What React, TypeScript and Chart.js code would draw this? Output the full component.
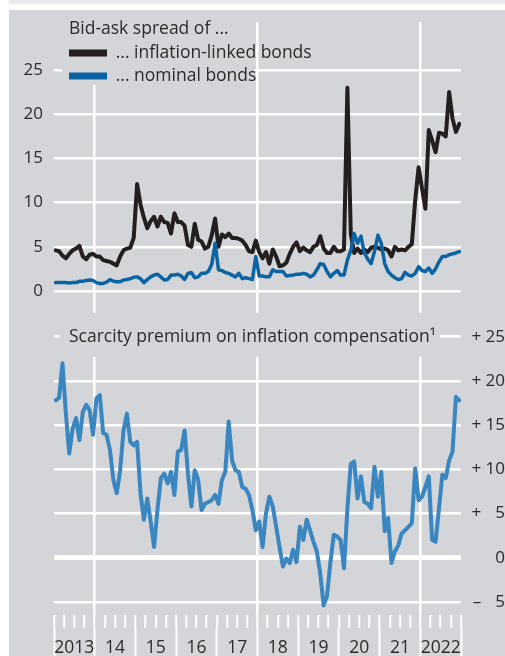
import React, { useEffect, useRef } from 'react';
import { Chart, registerables } from 'chart.js';

Chart.register(...registerables);

// ---------- data ----------
const START_YEAR = 2013;
const END_YEAR = 2023;
const yearLabels = ['2013', '14', '15', '16', '17', '18', '19', '20', '21', '2022'];
const verticalGridYears = [2014, 2018, 2022];
const leftTicks = [0, 5, 10, 15, 20, 25];
const rightTicks = [-5, 0, 5, 10, 15, 20, 25];

const legendTitle = 'Bid-ask spread of ...';
const inflationLinkedLabel = '... inflation-linked bonds';
const nominalLabel = '... nominal bonds';
const scarcityTitle = 'Scarcity premium on inflation compensation\u00b9';

// monthly values, Jan 2013 – Dec 2022
const inflationLinked = [
  4.6, 4.5, 4.0, 3.7, 4.2, 4.6, 4.8, 5.1, 3.9, 3.6, 4.1, 4.2,
  3.9, 3.9, 3.5, 3.4, 3.3, 3.1, 2.9, 3.9, 4.6, 4.8, 4.9, 6.0,
  12.1, 9.8, 8.3, 7.1, 7.9, 8.4, 7.3, 8.4, 7.8, 7.7, 6.5, 8.8,
  7.8, 7.8, 7.4, 5.2, 5.0, 7.6, 5.8, 5.6, 4.8, 5.0, 6.3, 8.2,
  5.0, 6.4, 6.1, 6.5, 6.0, 6.0, 5.9, 5.7, 5.2, 4.5, 4.4, 5.7,
  4.4, 3.7, 4.4, 3.1, 4.7, 3.9, 2.8, 2.9, 3.2, 4.2, 5.0, 5.5,
  4.5, 4.9, 4.6, 4.4, 5.0, 5.2, 6.2, 4.8, 4.3, 4.3, 5.0, 4.5,
  4.5, 4.7, 23.0, 6.5, 4.3, 4.8, 4.3, 4.7, 4.4, 4.9, 5.0, 4.9,
  4.7, 4.8, 4.6, 3.9, 5.0, 4.6, 4.7, 4.6, 5.0, 5.3, 10.3, 14.0,
  11.6, 9.3, 18.2, 17.0, 15.7, 17.9, 17.8, 17.5, 22.5, 19.5, 18.0, 18.9,
];

const nominal = [
  0.95, 0.95, 0.95, 0.95, 0.9, 0.95, 0.95, 1.1, 1.1, 1.2, 1.25, 1.2,
  0.95, 0.85, 0.85, 1.0, 1.3, 1.1, 1.05, 1.05, 1.25, 1.3, 1.4, 1.55,
  1.6, 1.4, 0.95, 1.3, 1.6, 1.8, 1.9, 1.6, 1.25, 1.3, 1.8, 1.8,
  1.9, 1.7, 1.3, 2.0, 2.1, 1.5, 1.6, 2.0, 2.0, 2.2, 3.0, 5.4,
  2.4, 2.3, 2.1, 2.0, 1.8, 1.6, 2.0, 1.4, 1.5, 1.4, 1.3, 3.9,
  1.7, 1.7, 1.6, 1.6, 2.4, 2.2, 2.2, 2.2, 1.7, 1.75, 1.8, 1.9,
  1.9, 2.0, 1.9, 1.6, 1.8, 2.4, 3.1, 3.0, 2.2, 1.6, 2.0, 2.3,
  1.8, 1.8, 3.5, 4.6, 6.5, 5.4, 6.2, 4.3, 3.6, 3.1, 4.5, 6.3,
  5.4, 3.1, 2.2, 1.8, 1.5, 1.3, 1.4, 2.1, 1.8, 1.7, 2.0, 2.75,
  2.3, 2.2, 2.6, 2.0, 2.5, 3.3, 3.9, 3.9, 4.1, 4.2, 4.3, 4.45,
];

const scarcity = [
  17.8, 18.1, 22.0, 16.3, 11.8, 14.6, 15.8, 13.3, 16.5, 17.3, 16.7, 13.9,
  18.0, 18.4, 14.1, 13.9, 12.2, 8.8, 7.3, 9.9, 14.4, 16.3, 13.1, 12.7,
  13.1, 7.3, 4.3, 6.7, 4.1, 1.2, 5.4, 9.0, 9.5, 8.4, 9.7, 7.1,
  12.0, 12.2, 14.4, 9.5, 5.8, 9.9, 8.8, 5.4, 6.1, 6.3, 6.5, 7.1,
  6.1, 8.8, 9.7, 15.4, 11.0, 9.9, 9.7, 8.0, 7.8, 7.1, 5.4, 3.1,
  4.1, 1.2, 5.0, 6.9, 5.8, 3.5, 1.2, -1.0, -0.1, -0.6, 0.9, -0.5,
  3.5, 2.0, 4.3, 3.1, 1.8, 0.7, -1.8, -5.4, -4.3, -0.5, 2.6, 2.4,
  2.0, -1.2, 5.5, 10.6, 10.9, 6.7, 9.2, 6.3, 6.1, 5.6, 10.3, 6.9,
  9.7, 3.0, 4.5, -0.6, 0.7, 1.4, 2.75, 3.1, 3.5, 3.9, 10.1, 6.5,
  6.9, 8.0, 9.2, 2.0, 1.8, 5.5, 9.4, 9.0, 11.0, 12.0, 18.2, 17.8,
];

// ---------- style ----------
const FONT = '"Open Sans", "Noto Sans", sans-serif';
const TEXT = '#2b2b2b';
const PANEL = '#d4d5d8';
const STRIP = '#ebebed';
const GRID = '#ffffff';
const NONE = 'rgba(0,0,0,0)';
const BLACK = '#231f20';
const NOMINAL_BLUE = '#0a63a3';
const SCARCITY_BLUE = '#3a86c0';

const LABEL_SIZE = 17.5;
const TICK_SIZE = 17;

const CANVAS_W = 496;
const CANVAS_H = 646;

const monthX = (i: number) => START_YEAR + (i + 0.5) / 12;
const toPoints = (arr: number[]) => arr.map((v, i) => ({ x: monthX(i), y: v }));

const quarterTicks: number[] = [];
for (let q = START_YEAR * 4; q <= END_YEAR * 4; q++) quarterTicks.push(q / 4);
const halfYearTicks: number[] = [];
for (let h = START_YEAR * 2; h <= END_YEAR * 2; h++) halfYearTicks.push(h / 2);

const fmtRight = (v: number) => {
  if (v === 0) return '0';
  const a = Math.abs(v);
  return (v > 0 ? '+ ' : '\u2013 ') + (a < 10 ? '\u2007' : '') + a;
};

function withBackground(box: any, rects: (chart: any) => { x: number; y: number; w: number; h: number }[]) {
  if (!box || box.__bgPatched) return;
  const original = box.draw;
  box.draw = function (...args: any[]) {
    const ctx = this.ctx;
    ctx.save();
    ctx.fillStyle = PANEL;
    rects(this.chart).forEach((r) => ctx.fillRect(r.x, r.y, r.w, r.h));
    ctx.restore();
    return original.apply(this, args);
  };
  box.__bgPatched = true;
}

const overlayPlugin = {
  id: 'overlayPanels',
  afterLayout(chart: any) {
    const ca = chart.chartArea;
    const lg = chart.legend;
    if (lg) {
      lg.left = ca.left + 15;
      lg.top = ca.top - 1.75;
      lg.width = 300;
      lg.right = lg.left + lg.width;
      lg.height = 120;
      lg.bottom = lg.top + lg.height;
      withBackground(lg, (c) => {
        const a = c.chartArea;
        return [{ x: a.left + 8, y: a.top, w: 193, h: 63 }];
      });
    }
    const tb = chart.titleBlock;
    if (tb) {
      const y25 = chart.scales.yR.getPixelForValue(25);
      tb.left = ca.left + 15;
      tb.right = ca.right;
      tb.width = tb.right - tb.left;
      tb.top = y25 - 6;
      tb.bottom = tb.top + 12;
      tb.height = 12;
      withBackground(tb, (c) => {
        const a = c.chartArea;
        const yy = c.scales.yR.getPixelForValue(25);
        return [{ x: a.left + 6, y: yy - 24, w: 380, h: 44 }];
      });
    }
  },
};

export default function App() {
  const ref = useRef<HTMLCanvasElement>(null);

  useEffect(() => {
    if (!ref.current) return;
    const chart = new Chart(ref.current, {
      type: 'line',
      data: {
        datasets: [
          {
            label: inflationLinkedLabel,
            data: toPoints(inflationLinked),
            yAxisID: 'yL',
            xAxisID: 'x',
            borderColor: BLACK,
            backgroundColor: BLACK,
            borderWidth: 4,
            pointRadius: 0,
            borderJoinStyle: 'round',
            borderCapStyle: 'round',
            order: 1,
          },
          {
            label: nominalLabel,
            data: toPoints(nominal),
            yAxisID: 'yL',
            xAxisID: 'x',
            borderColor: NOMINAL_BLUE,
            backgroundColor: NOMINAL_BLUE,
            borderWidth: 3.5,
            pointRadius: 0,
            borderJoinStyle: 'round',
            borderCapStyle: 'round',
            order: 0,
          },
          {
            label: scarcityTitle,
            data: toPoints(scarcity),
            yAxisID: 'yR',
            xAxisID: 'x',
            borderColor: SCARCITY_BLUE,
            backgroundColor: SCARCITY_BLUE,
            borderWidth: 4,
            pointRadius: 0,
            borderJoinStyle: 'round',
            borderCapStyle: 'round',
            order: 2,
          },
        ],
      },
      options: {
        responsive: false,
        animation: false,
        devicePixelRatio: 1,
        events: [],
        layout: { padding: 0 },
        elements: { line: { tension: 0 }, point: { radius: 0 } },
        plugins: {
          tooltip: { enabled: false },
          legend: {
            display: true,
            position: 'chartArea',
            align: 'start',
            title: {
              display: true,
              text: legendTitle,
              position: 'start',
              color: TEXT,
              font: { family: FONT, size: LABEL_SIZE, lineHeight: 1 },
              padding: { top: 0, bottom: 6.5 },
            },
            labels: {
              color: TEXT,
              font: { family: FONT, size: LABEL_SIZE, lineHeight: 23 / LABEL_SIZE },
              boxWidth: 38,
              boxHeight: 7,
              padding: 0,
              generateLabels: (c: any) =>
                c.data.datasets.slice(0, 2).map((ds: any, i: number) => ({
                  text: [ds.label],
                  fillStyle: ds.borderColor,
                  strokeStyle: ds.borderColor,
                  lineWidth: 0,
                  hidden: false,
                  fontColor: TEXT,
                  datasetIndex: i,
                })),
            },
          },
          title: {
            display: true,
            text: scarcityTitle,
            position: 'top',
            align: 'start',
            color: TEXT,
            font: { family: FONT, size: LABEL_SIZE, lineHeight: 12 / LABEL_SIZE, weight: 'normal' },
            padding: 0,
          },
        },
        scales: {
          x: {
            type: 'linear',
            position: 'bottom',
            min: START_YEAR,
            max: END_YEAR,
            weight: 0,
            afterBuildTicks: (s: any) => {
              s.ticks = quarterTicks.map((v) => ({ value: v }));
            },
            afterFit: (s: any) => {
              s.height = 13;
              s.paddingLeft = 0;
              s.paddingRight = 0;
            },
            grid: {
              drawOnChartArea: true,
              drawTicks: true,
              tickLength: 13,
              color: (c: any) => (c.tick && verticalGridYears.includes(c.tick.value) ? GRID : NONE),
              lineWidth: 2.5,
              tickColor: GRID,
              tickWidth: 2,
            },
            border: { display: false },
            ticks: { display: false },
          },
          xYear: {
            type: 'linear',
            position: 'bottom',
            min: START_YEAR,
            max: END_YEAR,
            weight: 1,
            afterBuildTicks: (s: any) => {
              s.ticks = halfYearTicks.map((v) => ({ value: v }));
            },
            afterFit: (s: any) => {
              s.height = 28;
              s.paddingLeft = 0;
              s.paddingRight = 0;
            },
            grid: {
              drawOnChartArea: false,
              drawTicks: true,
              tickLength: 28,
              color: NONE,
              tickColor: (c: any) => (c.tick && Number.isInteger(c.tick.value) ? GRID : NONE),
              tickWidth: 2,
            },
            border: { display: false },
            ticks: {
              autoSkip: false,
              maxRotation: 0,
              minRotation: 0,
              padding: -18.5,
              color: TEXT,
              font: { family: FONT, size: 17.5 },
              callback: (v: any) => {
                const k = Number(v) - (START_YEAR + 0.5);
                return Number.isInteger(k) ? yearLabels[k] : '';
              },
            },
          },
          yL: {
            type: 'linear',
            position: 'left',
            min: -36.65,
            max: 30.43,
            afterBuildTicks: (s: any) => {
              s.ticks = leftTicks.map((v) => ({ value: v }));
            },
            afterFit: (s: any) => {
              s.width = 45;
              s.paddingTop = 0;
              s.paddingBottom = 0;
            },
            grid: { color: GRID, lineWidth: 2.5, drawTicks: false },
            border: { display: false },
            ticks: {
              padding: 11,
              color: TEXT,
              font: { family: FONT, size: TICK_SIZE },
              callback: (v: any) => String(v),
            },
          },
          yR: {
            type: 'linear',
            position: 'right',
            min: -6.48,
            max: 60.6,
            afterBuildTicks: (s: any) => {
              s.ticks = rightTicks.map((v) => ({ value: v }));
            },
            afterFit: (s: any) => {
              s.width = 44;
              s.paddingTop = 0;
              s.paddingBottom = 0;
            },
            grid: {
              color: GRID,
              lineWidth: (c: any) => (c.tick && c.tick.value === 0 ? 5 : 2.5),
              drawTicks: false,
            },
            border: { display: false },
            ticks: {
              padding: 9,
              crossAlign: 'far',
              color: TEXT,
              font: { family: FONT, size: TICK_SIZE },
              callback: (v: any) => fmtRight(Number(v)),
            },
          },
        },
      } as any,
      plugins: [overlayPlugin],
    } as any);
    return () => chart.destroy();
  }, []);

  return (
    <div
      style={{
        position: 'fixed',
        left: 0,
        top: 0,
        width: 505,
        height: 656,
        background: '#ffffff',
        overflow: 'hidden',
      }}
    >
      <div style={{ position: 'absolute', left: 9, top: 0, width: 496, height: 4, background: STRIP }} />
      <div style={{ position: 'absolute', left: 9, top: 10, width: CANVAS_W, height: CANVAS_H, background: PANEL }}>
        <canvas
          ref={ref}
          width={CANVAS_W}
          height={CANVAS_H}
          style={{ display: 'block', width: CANVAS_W, height: CANVAS_H }}
        />
      </div>
    </div>
  );
}
